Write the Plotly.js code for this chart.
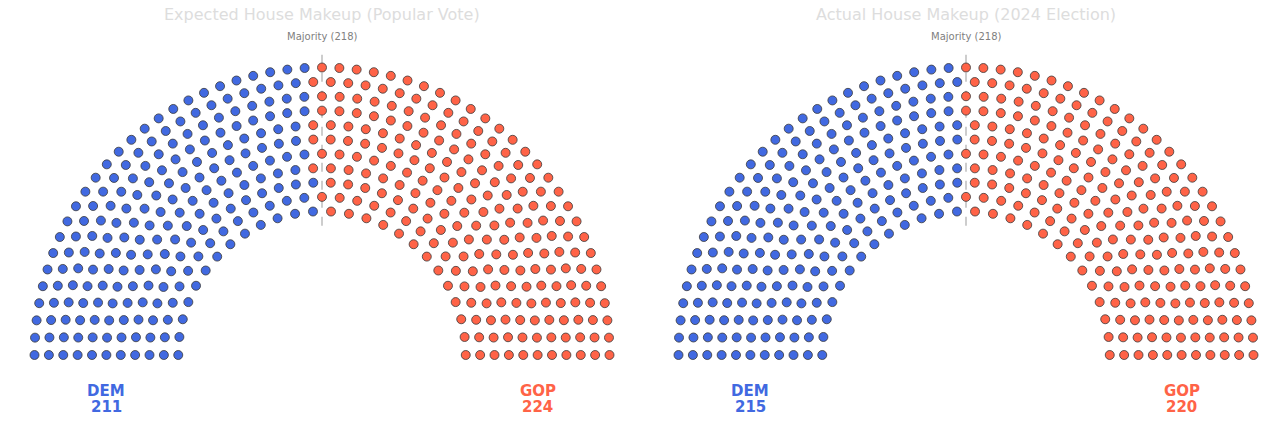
<!DOCTYPE html>
<html>
<head>
<meta charset="utf-8">
<script src="https://cdn.plot.ly/plotly-3.0.1.min.js"></script>
<style>
  html, body { margin: 0; padding: 0; background: #fff; }
  #chart { width: 1288px; height: 423px; }
</style>
</head>
<body>
<div id="chart"></div>
<script>
// chart data
const parties = ['DEM', 'GOP'];
const partyColors = ['#4169E1', '#FF6347'];
const panelTitles = ['Expected House Makeup (Popular Vote)', 'Actual House Makeup (2024 Election)'];
const expectedSeats = [211, 224];
const actualSeats = [215, 220];
const totalSeats = 435;
const majoritySeats = 218;

const nRings = 11;
const innerRadius = 0.5;

// seats per ring, proportional to the ring radius
function ringLayout() {
    let radii = [];
    for (let i = 0; i < nRings; i++) {
        radii.push(innerRadius + (1 - innerRadius) * i / (nRings - 1));
    }
    let sumR = radii.reduce((a, b) => a + b, 0);
    let counts = radii.map(r => Math.round(totalSeats * r / sumR));
    // fix any rounding drift on the outer ring
    let diff = totalSeats - counts.reduce((a, b) => a + b, 0);
    counts[nRings - 1] += diff;
    return {radii: radii, counts: counts};
}

function seatPositions() {
    let rl = ringLayout();
    let seats = [];
    for (let i = 0; i < nRings; i++) {
        let n = rl.counts[i];
        for (let j = 0; j < n; j++) {
            let a = Math.PI * (1 - j / (n - 1));
            seats.push({a: a, r: rl.radii[i]});
        }
    }
    // left to right
    seats.sort((p, q) => q.a - p.a);
    return seats;
}

const seats = seatPositions();

let data = [];
let annotations = [];

function addPanel(k, seatCounts) {
    let xa = k === 0 ? 'x' : 'x2';
    let ya = k === 0 ? 'y' : 'y2';

    // majority line first so the dots sit on top of it
    data.push({
        x: [0, 0], y: [0.45, 1.05],
        xaxis: xa, yaxis: ya,
        mode: 'lines', type: 'scatter',
        line: {color: '#c8c8c8', width: 1.8, dash: 'dash'},
        hoverinfo: 'skip', showlegend: false
    });

    let start = 0;
    for (let p = 0; p < parties.length; p++) {
        let chunk = seats.slice(start, start + seatCounts[p]);
        start += seatCounts[p];
        data.push({
            x: chunk.map(s => s.r * Math.cos(s.a)),
            y: chunk.map(s => s.r * Math.sin(s.a)),
            xaxis: xa, yaxis: ya,
            mode: 'markers', type: 'scatter',
            name: parties[p],
            marker: {size: 9, color: partyColors[p], line: {color: '#3a3a3a', width: 0.8}},
            showlegend: false
        });

        let lx = p === 0 ? -0.75 : 0.75;
        annotations.push({
            xref: xa, yref: ya, x: lx, y: -0.1235,
            text: parties[p], showarrow: false,
            font: {family: 'DejaVu Sans', size: 15, color: partyColors[p], weight: 'bold'}
        });
        annotations.push({
            xref: xa, yref: ya, x: lx, y: -0.182,
            text: String(seatCounts[p]), showarrow: false,
            font: {family: 'DejaVu Sans', size: 15, color: partyColors[p], weight: 'bold'}
        });
    }

    annotations.push({
        xref: xa, yref: ya, x: 0, y: 1.108,
        text: 'Majority (' + majoritySeats + ')', showarrow: false,
        font: {family: 'DejaVu Sans', size: 10, color: '#808080'}
    });
    annotations.push({
        xref: xa, yref: ya, x: 0, y: 1.186,
        text: panelTitles[k], showarrow: false,
        font: {family: 'DejaVu Sans', size: 16, color: '#dddddd'}
    });
}

addPanel(0, expectedSeats);
addPanel(1, actualSeats);

const pxPerUnit = 287.5;
const baseY = 355;
const H = 423;
const yRange = [-(H - baseY) / pxPerUnit, baseY / pxPerUnit];
const xHalf = 644 / pxPerUnit / 2;

function hiddenAxis(extra) {
    return Object.assign({
        visible: false, showgrid: false, zeroline: false, fixedrange: true
    }, extra);
}

let layout = {
    width: 1288, height: 423,
    margin: {l: 0, r: 0, t: 0, b: 0, pad: 0},
    paper_bgcolor: '#ffffff', plot_bgcolor: '#ffffff',
    showlegend: false,
    xaxis: hiddenAxis({domain: [0, 0.5], range: [-xHalf, xHalf]}),
    yaxis: hiddenAxis({domain: [0, 1], range: yRange}),
    xaxis2: hiddenAxis({domain: [0.5, 1], range: [-xHalf, xHalf]}),
    yaxis2: hiddenAxis({domain: [0, 1], range: yRange, anchor: 'x2'}),
    annotations: annotations
};
layout.xaxis2.anchor = 'y2';

Plotly.newPlot('chart', data, layout, {displayModeBar: false, staticPlot: true});
</script>
</body>
</html>
